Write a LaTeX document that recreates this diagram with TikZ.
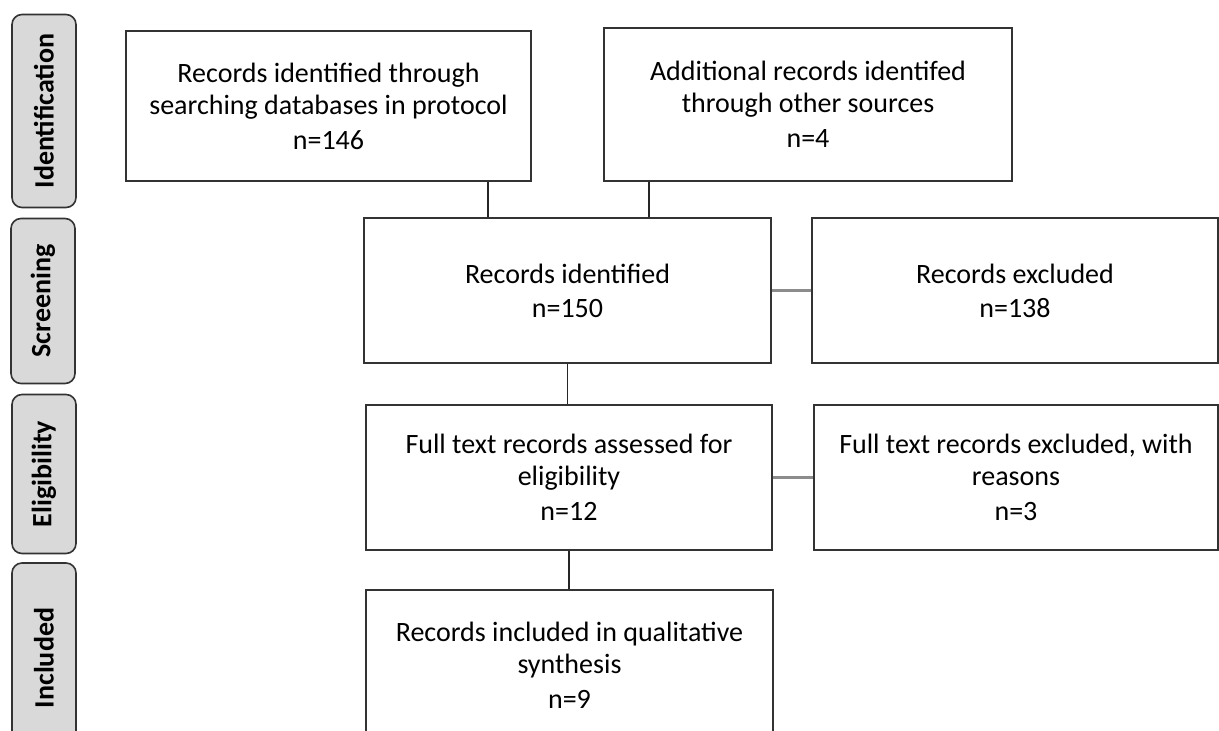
\documentclass[tikz,border=0pt]{standalone}
\usepackage{fontspec}
\setmainfont{Carlito}
\definecolor{boxline}{HTML}{333333}
\definecolor{sidefill}{HTML}{D9D9D9}
\definecolor{hline}{HTML}{8C8C8C}
\begin{document}
\begin{tikzpicture}[x=1pt,y=-1pt,
  flowbox/.style={draw=boxline,line width=1.6pt,fill=white,align=center,
    font=\fontsize{28}{32}\selectfont,text=black,inner sep=0pt},
  sidebox/.style={draw=boxline,line width=1.6pt,fill=sidefill,rounded corners=10pt,
    minimum height=64pt,font=\fontsize{28}{32}\selectfont\bfseries,inner sep=0pt,rotate=90},
  vconn/.style={draw=black!85,line width=1.8pt},
  hconn/.style={draw=hline,line width=2.8pt}]
\clip (0,0) rectangle (1219,731);
\fill[white] (0,0) rectangle (1219,731);
% side labels
\node[sidebox,minimum width=193pt] (s1) at (44,111) {Identification};
\node[sidebox,minimum width=165pt] (s2) at (43,301) {Screening};
\node[sidebox,minimum width=159pt] (s3) at (44,474) {Eligibility};
\node[sidebox,minimum width=190pt] (s4) at (44,658) {Included};
% main boxes
\node[flowbox,minimum width=405pt,minimum height=150pt] (A) at (328.5,106)
  {Records identified through\\searching databases in protocol\\[3pt]n=146};
\node[flowbox,minimum width=408pt,minimum height=153pt] (B) at (808,104.5)
  {Additional records identifed\\through other sources\\[3pt]n=4};
\node[flowbox,minimum width=407pt,minimum height=145pt] (C) at (567.5,290.5)
  {Records identified\\[2pt]n=150};
\node[flowbox,minimum width=406pt,minimum height=145pt] (D) at (1015,290.5)
  {Records excluded\\[2pt]n=138};
\node[flowbox,minimum width=406pt,minimum height=145pt] (E) at (569,477.5)
  {Full text records assessed for\\eligibility\\[3pt]n=12};
\node[flowbox,minimum width=404pt,minimum height=145pt] (F) at (1016,477.5)
  {Full text records excluded, with\\reasons\\[3pt]n=3};
\node[flowbox,minimum width=407pt,minimum height=150pt] (G) at (569.5,665)
  {Records included in qualitative\\synthesis\\[3pt]n=9};
% connectors
\coordinate (a1) at ([xshift=-44pt]A.south east);
\coordinate (b1) at ([xshift=46pt]B.south west);
\draw[vconn] (a1) -- (a1 |- C.north);
\draw[vconn] (b1) -- (b1 |- C.north);
\draw[vconn] (C.south) -- (C.south |- E.north);
\draw[vconn] (E.south) -- (E.south |- G.north);
\draw[hconn] (C.east) -- (D.west);
\draw[hconn] (E.east) -- (F.west);
\end{tikzpicture}
\end{document}
